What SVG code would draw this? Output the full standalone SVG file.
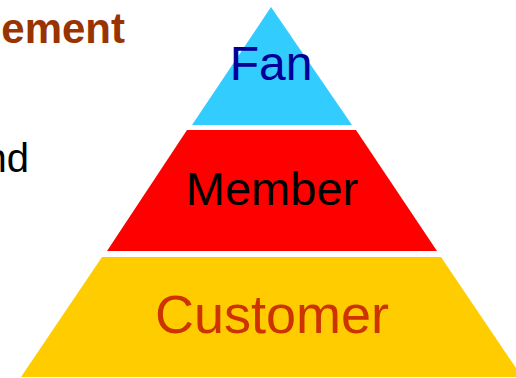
<svg xmlns="http://www.w3.org/2000/svg" width="516" height="378" viewBox="0 0 516 378">
  <style>
    .lbl { font-family: "Liberation Sans", Arial, sans-serif; text-anchor: middle; }
    .side { font-family: "Liberation Sans", Arial, sans-serif; text-anchor: end; }
  </style>
  <rect width="516" height="378" fill="#ffffff"/>
  <!-- clipped heading and body text on the left -->
  <text class="side" x="125" y="43" font-size="42" font-weight="bold" fill="#993300">ement</text>
  <text class="side" x="29" y="172" font-size="40" fill="#000000">nd</text>
  <!-- pyramid tiers -->
  <g id="fan">
    <polygon points="271,7 352,125 192,125" fill="#33CCFF"/>
    <text class="lbl" x="271" y="80" font-size="48" fill="#000099">Fan</text>
  </g>
  <g id="member">
    <polygon points="187,130 356,130 437,251 107,251" fill="#FF0000"/>
    <text class="lbl" x="272" y="205" font-size="47" fill="#000000">Member</text>
  </g>
  <g id="customer">
    <polygon points="102,257 441,257 522,377 21,377" fill="#FFCC00"/>
    <text class="lbl" x="272" y="333" font-size="54" fill="#CC3300">Customer</text>
  </g>
  <g id="connectors"/>
</svg>
